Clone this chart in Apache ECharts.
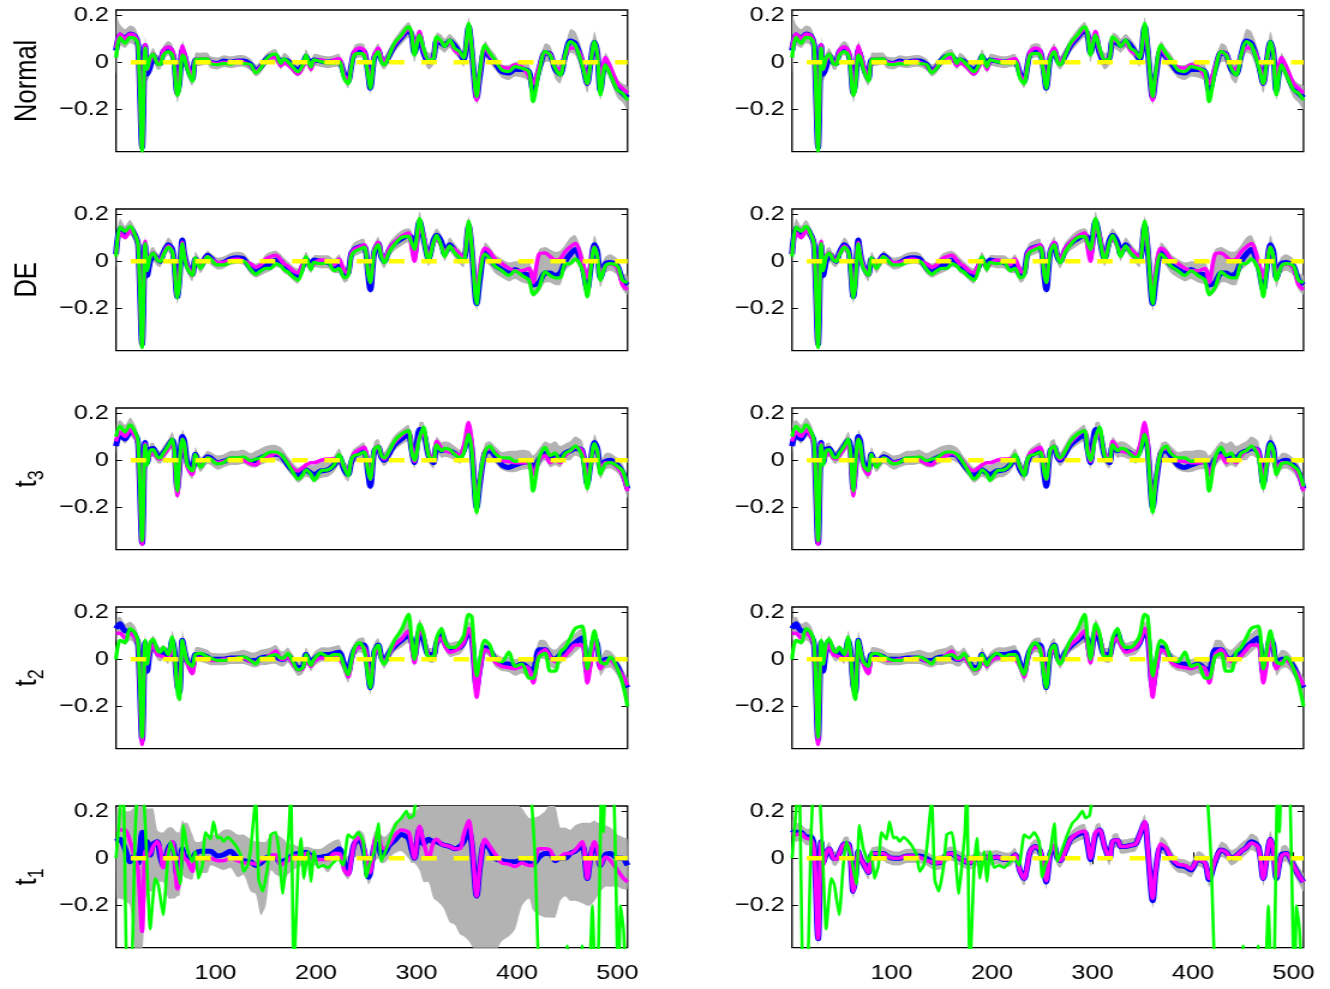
<!DOCTYPE html>
<html><head><meta charset="utf-8">
<script src="https://cdn.jsdelivr.net/npm/echarts@6/dist/echarts.min.js"></script>
<style>
html,body{margin:0;padding:0;background:#fff;overflow:hidden;}
#c{width:1108px;height:989px;transform:scaleX(1.2003610);transform-origin:0 0;}
</style></head><body><div id="c"></div>
<script>
// ---------- DATA ----------
const xs = [1,5,10,15,20,23,27,30,32,35,
 38,42,45,48,53,57,59,62,64,67,
 69,72,77,80,85,92,95,102,108,115,
 122,128,135,140,145,150,155,160,165,168,
 172,177,182,187,190,195,198,205,212,218,
 223,228,232,235,238,243,248,252,254,258,
 262,265,268,273,278,285,292,295,298,303,
 307,312,317,320,325,328,333,338,343,347,
 352,355,360,363,368,373,378,385,392,398,
 405,412,416,422,428,433,438,443,448,453,
 458,465,470,473,477,480,483,488,493,500,
 505,510];

const xTicks = [100,200,300,400,500];
const yTicks = [-0.2,0,0.2];
const rowNames = ['Normal','DE','t3','t2','t1'];

// Row 1 (Normal)
const r1Green = [0.02,0.105,0.08,0.105,0.10,0.07,-0.375,0.06,-0.03,0.02,
 0.035,-0.005,-0.01,0.03,0.045,0.03,-0.02,-0.14,-0.11,0.03,
 0.02,-0.03,-0.08,0.01,0.015,0.015,-0.005,-0.01,-0.005,-0.008,
 0.003,-0.005,-0.01,-0.045,-0.025,0.01,0.03,0.035,-0.005,0.015,
 0.003,-0.02,-0.04,-0.01,0.03,-0.02,0.01,0.003,-0.004,-0.004,
 0.003,-0.07,-0.09,-0.025,0.03,0.038,0.03,-0.06,-0.11,0.017,
 0.045,0.003,-0.011,0.031,0.08,0.115,0.15,0.125,0.03,0.115,
 0.06,0.01,0.017,0.108,0.087,0.066,0.094,0.059,0.045,0.017,
 0.165,0.06,-0.145,-0.04,0.073,0.038,0.01,-0.032,-0.039,-0.018,
 -0.025,-0.04,-0.166,-0.04,0.045,0.031,-0.025,-0.054,0.031,0.087,
 0.073,-0.011,-0.089,-0.011,0.087,0.031,-0.138,-0.011,-0.054,-0.117,
 -0.131,-0.16];
const r1Blue = [0.05,0.115,0.10,0.12,0.11,0.075,-0.36,0.07,-0.05,-0.02,
 0.03,0.0,-0.005,0.045,0.06,0.04,0.0,-0.13,-0.09,0.05,
 0.03,-0.02,-0.07,0.01,0.005,0.01,0.0,-0.005,0.005,0.0,
 0.005,0.005,-0.01,-0.035,-0.02,0.01,0.025,0.025,-0.005,0.01,
 0.005,-0.02,-0.03,-0.01,0.025,-0.015,0.01,0.005,0.0,0.005,
 0.005,-0.05,-0.08,-0.02,0.04,0.05,0.045,-0.05,-0.11,0.02,
 0.05,0.01,-0.005,0.03,0.07,0.105,0.135,0.12,0.04,0.11,
 0.04,0.0,0.02,0.09,0.08,0.07,0.09,0.07,0.04,0.01,
 0.15,0.05,-0.15,-0.06,0.05,0.025,0.0,-0.04,-0.045,-0.03,
 -0.03,-0.04,-0.12,-0.03,0.04,0.035,-0.03,-0.05,0.03,0.09,
 0.08,0.0,-0.09,-0.01,0.085,0.04,-0.12,0.0,-0.04,-0.11,
 -0.13,-0.15];
const r1Mag = [0.06,0.12,0.10,0.12,0.11,0.075,-0.36,0.075,-0.03,0.01,
 0.035,0.0,0.0,0.05,0.065,0.05,0.01,-0.14,-0.09,0.07,
 0.04,-0.01,-0.07,0.01,0.015,0.015,0.0,-0.005,0.0,-0.005,
 0.005,0.0,-0.015,-0.04,-0.02,0.005,0.02,0.02,-0.015,0.0,
 -0.01,-0.03,-0.05,-0.02,0.02,-0.03,0.005,0.01,0.0,0.01,
 0.015,-0.055,-0.08,-0.02,0.045,0.06,0.05,-0.05,-0.10,0.03,
 0.06,0.02,0.0,0.035,0.075,0.11,0.14,0.125,0.05,0.13,
 0.05,0.01,0.02,0.095,0.085,0.07,0.085,0.05,0.035,0.02,
 0.14,0.06,-0.16,-0.05,0.065,0.03,0.005,-0.02,-0.025,-0.01,
 -0.02,-0.06,-0.09,-0.02,0.04,0.035,-0.02,-0.03,0.03,0.06,
 0.06,0.01,-0.09,-0.01,0.08,0.04,-0.09,0.02,-0.02,-0.09,
 -0.11,-0.13];
const r1Lo = [-0.05,0.07,0.06,0.08,0.07,0.03,-0.38,0.03,-0.08,-0.05,
 0.0,-0.03,-0.03,0.01,0.03,0.0,-0.04,-0.17,-0.13,0.01,
 -0.01,-0.06,-0.10,-0.02,-0.015,-0.01,-0.025,-0.03,-0.02,-0.025,
 -0.02,-0.02,-0.035,-0.06,-0.045,-0.015,0.0,0.0,-0.03,-0.015,
 -0.02,-0.045,-0.06,-0.04,0.0,-0.045,-0.015,-0.02,-0.025,-0.02,
 -0.02,-0.08,-0.11,-0.05,0.01,0.02,0.015,-0.08,-0.135,-0.01,
 0.02,-0.02,-0.03,0.0,0.04,0.075,0.105,0.09,0.0,0.08,
 0.01,-0.03,-0.01,0.06,0.05,0.04,0.06,0.035,0.01,-0.02,
 0.12,0.02,-0.18,-0.09,0.02,-0.005,-0.03,-0.065,-0.075,-0.06,
 -0.065,-0.08,-0.16,-0.07,0.0,0.0,-0.07,-0.09,-0.01,0.04,
 0.03,-0.05,-0.13,-0.05,0.05,0.0,-0.16,-0.04,-0.08,-0.15,
 -0.17,-0.2];
const r1Hi = [0.20,0.16,0.14,0.155,0.145,0.11,-0.32,0.11,0.0,0.04,
 0.06,0.03,0.03,0.07,0.09,0.075,0.04,-0.10,-0.05,0.09,
 0.07,0.02,-0.04,0.04,0.04,0.04,0.025,0.02,0.03,0.025,
 0.03,0.03,0.015,-0.01,0.005,0.035,0.05,0.055,0.02,0.04,
 0.03,0.005,-0.005,0.015,0.055,0.01,0.035,0.03,0.025,0.03,
 0.035,-0.02,-0.05,0.01,0.07,0.08,0.075,-0.02,-0.08,0.05,
 0.08,0.04,0.025,0.06,0.10,0.14,0.17,0.15,0.08,0.14,
 0.08,0.04,0.05,0.125,0.115,0.10,0.12,0.10,0.07,0.04,
 0.19,0.08,-0.12,-0.02,0.09,0.06,0.035,-0.01,-0.01,0.0,
 0.005,-0.01,-0.08,0.01,0.08,0.07,0.01,0.0,0.07,0.14,
 0.13,0.05,-0.04,0.03,0.13,0.08,-0.06,0.04,0.0,-0.07,
 -0.09,-0.1];

// Row 2 (DE)
const r2Green = [0.02,0.145,0.127,0.148,0.11,0.07,-0.365,0.075,-0.04,0.02,
 0.035,0.005,-0.001,0.025,0.06,0.04,-0.02,-0.155,-0.10,0.075,
 0.02,-0.03,-0.06,0.015,-0.03,0.02,0.01,-0.015,-0.015,-0.005,
 0.0,0.0,-0.035,-0.055,-0.04,-0.03,-0.03,-0.01,-0.02,-0.035,
 -0.045,-0.065,-0.08,-0.03,0.02,-0.035,-0.005,-0.01,-0.005,-0.04,
 -0.03,-0.07,-0.06,0.02,0.04,0.05,0.06,-0.055,-0.09,0.04,
 0.07,0.02,-0.007,0.04,0.07,0.10,0.105,0.08,0.05,0.18,
 0.10,0.005,0.08,0.11,0.06,0.02,0.065,0.035,0.015,0.0,
 0.17,0.06,-0.18,-0.06,0.03,0.01,-0.02,-0.04,-0.06,-0.04,
 -0.06,-0.08,-0.14,-0.11,-0.045,-0.06,-0.07,-0.07,-0.01,-0.01,
 0.01,-0.035,-0.15,-0.05,0.06,0.02,-0.08,-0.02,-0.01,-0.02,
 -0.08,-0.09];
const r2Blue = [0.03,0.14,0.12,0.14,0.11,0.07,-0.35,0.07,-0.06,0.0,
 0.03,0.01,0.0,0.035,0.07,0.05,-0.01,-0.15,-0.08,0.09,
 0.03,-0.02,-0.055,0.01,-0.02,0.025,0.015,-0.01,-0.005,0.01,
 0.015,0.01,-0.03,-0.045,-0.035,-0.02,-0.01,0.005,0.0,-0.02,
 -0.03,-0.05,-0.06,-0.02,0.01,-0.02,0.005,0.0,-0.005,-0.02,
 -0.02,-0.06,-0.05,0.03,0.05,0.06,0.065,-0.06,-0.12,0.04,
 0.075,0.02,0.0,0.05,0.075,0.095,0.11,0.10,0.03,0.17,
 0.10,0.01,0.09,0.11,0.08,0.03,0.07,0.045,0.02,0.005,
 0.15,0.05,-0.18,-0.08,0.04,0.015,-0.015,-0.035,-0.05,-0.035,
 -0.05,-0.06,-0.10,-0.09,-0.05,-0.05,-0.06,-0.05,0.0,0.03,
 0.05,-0.02,-0.12,-0.04,0.07,0.04,-0.07,-0.01,-0.005,-0.02,
 -0.08,-0.10];
const r2Mag = [0.03,0.12,0.10,0.13,0.11,0.07,-0.35,0.085,-0.03,0.02,
 0.035,0.01,0.005,0.03,0.065,0.04,-0.01,-0.15,-0.09,0.08,
 0.025,-0.02,-0.06,0.01,-0.02,0.02,0.01,-0.005,-0.005,0.005,
 0.01,0.0,-0.01,-0.025,-0.015,0.01,0.02,0.025,0.005,-0.01,
 -0.02,-0.04,-0.05,-0.01,0.005,-0.03,-0.01,0.005,0.0,-0.015,
 0.01,-0.04,-0.05,0.03,0.05,0.06,0.07,-0.05,-0.09,0.045,
 0.08,0.03,0.01,0.055,0.08,0.105,0.12,0.06,0.0,0.14,
 0.11,0.015,0.08,0.10,0.06,0.04,0.06,0.05,0.03,0.01,
 0.16,0.06,-0.15,-0.03,0.055,0.04,0.01,-0.01,-0.03,-0.04,
 -0.04,-0.03,-0.09,0.03,0.035,0.02,0.005,0.01,0.04,0.06,
 0.075,0.0,-0.07,-0.02,0.06,0.02,-0.06,-0.02,-0.01,-0.03,
 -0.10,-0.12];
const r2Lo = [-0.03,0.11,0.09,0.11,0.08,0.03,-0.375,0.04,-0.08,-0.03,
 0.0,-0.02,-0.025,0.0,0.04,0.01,-0.04,-0.18,-0.12,0.05,
 0.0,-0.05,-0.085,-0.015,-0.05,-0.005,-0.015,-0.035,-0.03,-0.015,
 -0.01,-0.015,-0.055,-0.07,-0.06,-0.05,-0.04,-0.025,-0.03,-0.05,
 -0.06,-0.08,-0.095,-0.05,-0.02,-0.05,-0.025,-0.03,-0.03,-0.05,
 -0.05,-0.09,-0.08,0.0,0.02,0.03,0.035,-0.09,-0.14,0.01,
 0.045,-0.01,-0.03,0.02,0.045,0.065,0.08,0.06,0.0,0.14,
 0.07,-0.02,0.05,0.08,0.04,0.0,0.04,0.015,-0.01,-0.025,
 0.12,0.02,-0.21,-0.11,0.0,-0.02,-0.05,-0.07,-0.085,-0.075,
 -0.09,-0.10,-0.15,-0.13,-0.09,-0.09,-0.10,-0.10,-0.04,-0.02,
 0.0,-0.06,-0.16,-0.08,0.03,-0.01,-0.11,-0.05,-0.04,-0.06,
 -0.12,-0.14];
const r2Hi = [0.10,0.18,0.15,0.175,0.14,0.10,-0.32,0.11,0.0,0.05,
 0.06,0.035,0.03,0.06,0.10,0.08,0.02,-0.12,-0.05,0.11,
 0.06,0.01,-0.03,0.04,0.01,0.045,0.035,0.015,0.02,0.035,
 0.04,0.035,0.0,-0.01,0.0,0.03,0.04,0.045,0.03,0.015,
 0.0,-0.02,-0.03,0.01,0.04,0.0,0.025,0.025,0.025,0.01,
 0.03,-0.02,-0.02,0.06,0.08,0.09,0.095,-0.02,-0.06,0.07,
 0.105,0.05,0.03,0.08,0.105,0.13,0.14,0.13,0.07,0.21,
 0.13,0.04,0.12,0.14,0.11,0.06,0.10,0.075,0.05,0.035,
 0.19,0.09,-0.15,-0.03,0.08,0.06,0.03,0.01,-0.005,0.0,
 0.0,0.0,-0.04,0.05,0.06,0.05,0.04,0.045,0.07,0.10,
 0.11,0.04,-0.05,0.02,0.11,0.07,-0.02,0.02,0.03,0.01,
 -0.05,-0.06];

// Row 3 (t3)
const r3Green = [0.10,0.145,0.12,0.15,0.12,0.08,-0.34,0.065,-0.02,0.04,
 0.045,0.015,0.01,0.03,0.06,0.09,0.04,-0.13,-0.02,0.09,
 0.07,-0.02,-0.045,0.025,-0.03,0.01,0.005,-0.015,-0.01,0.01,
 0.01,0.015,-0.002,0.005,0.01,0.025,0.035,0.035,0.025,0.01,
 -0.015,-0.05,-0.08,-0.06,-0.04,-0.06,-0.085,-0.045,-0.04,-0.02,
 0.025,-0.03,-0.065,0.0,0.02,0.025,0.035,-0.05,-0.08,0.045,
 0.06,0.02,0.01,0.04,0.08,0.11,0.125,0.04,0.0,0.095,
 0.14,0.02,0.0,0.065,0.04,0.05,0.045,0.025,0.01,0.03,
 0.11,0.04,-0.22,-0.08,0.035,0.06,0.03,0.01,0.01,-0.005,
 0.0,-0.01,-0.13,0.01,0.055,0.02,0.03,-0.005,0.03,0.04,
 0.06,0.015,-0.12,-0.03,0.07,0.04,-0.06,-0.015,-0.01,-0.025,
 -0.045,-0.11];
const r3Blue = [0.06,0.11,0.09,0.12,0.11,0.07,-0.35,0.075,-0.01,0.045,
 0.05,0.02,0.015,0.03,0.06,0.085,0.06,-0.12,-0.04,0.10,
 0.08,-0.01,-0.04,0.025,-0.02,0.015,0.01,-0.01,-0.005,0.005,
 0.005,0.005,-0.005,0.0,0.01,0.02,0.025,0.025,0.02,0.005,
 -0.02,-0.045,-0.065,-0.05,-0.04,-0.055,-0.06,-0.045,-0.04,-0.02,
 0.015,-0.04,-0.06,-0.01,0.02,0.03,0.04,-0.06,-0.11,0.04,
 0.055,0.015,0.0,0.03,0.065,0.09,0.11,0.05,-0.01,0.13,
 0.12,0.02,-0.01,0.06,0.04,0.045,0.04,0.03,0.015,0.04,
 0.11,0.05,-0.20,-0.10,0.03,0.04,0.02,-0.02,-0.03,-0.02,
 -0.01,-0.005,-0.04,0.005,0.03,0.01,0.02,0.01,0.03,0.04,
 0.05,0.04,-0.10,-0.02,0.075,0.05,-0.03,-0.005,0.0,-0.02,
 -0.05,-0.12];
const r3Mag = [0.08,0.12,0.10,0.13,0.10,0.07,-0.355,0.07,0.0,0.02,
 0.03,0.01,0.005,0.02,0.05,0.07,0.03,-0.15,-0.06,0.09,
 0.06,-0.03,-0.06,0.02,-0.02,0.01,0.005,-0.01,-0.005,0.005,
 0.005,0.0,-0.015,-0.02,0.0,0.015,0.02,0.03,0.02,0.01,
 -0.01,-0.035,-0.045,-0.03,-0.02,-0.01,-0.01,0.0,0.005,0.005,
 0.01,-0.03,-0.05,-0.005,0.03,0.045,0.055,-0.04,-0.08,0.04,
 0.06,0.02,0.005,0.04,0.075,0.105,0.125,0.06,-0.005,0.10,
 0.11,0.03,0.0,0.08,0.05,0.04,0.035,0.03,0.02,0.06,
 0.16,0.08,-0.19,-0.09,0.04,0.05,0.035,0.0,-0.005,-0.01,
 -0.01,-0.01,-0.06,0.0,0.02,-0.01,0.005,-0.01,0.02,0.04,
 0.055,0.04,-0.09,-0.02,0.065,0.04,-0.04,-0.01,-0.01,-0.03,
 -0.06,-0.13];
const r3Lo = [0.03,0.09,0.07,0.10,0.08,0.04,-0.37,0.04,-0.04,0.01,
 0.015,-0.01,-0.015,0.0,0.03,0.05,0.01,-0.165,-0.08,0.06,
 0.04,-0.05,-0.08,-0.005,-0.05,-0.015,-0.02,-0.04,-0.03,-0.02,
 -0.02,-0.015,-0.03,-0.03,-0.02,-0.01,0.0,0.0,-0.01,-0.02,
 -0.045,-0.07,-0.095,-0.08,-0.07,-0.08,-0.095,-0.075,-0.07,-0.05,
 -0.02,-0.07,-0.09,-0.04,-0.01,0.0,0.01,-0.09,-0.125,0.01,
 0.03,-0.01,-0.025,0.0,0.04,0.065,0.08,0.02,-0.035,0.07,
 0.09,-0.01,-0.035,0.03,0.01,0.015,0.01,0.0,-0.015,0.01,
 0.08,0.01,-0.24,-0.13,0.0,0.01,-0.01,-0.04,-0.05,-0.05,
 -0.04,-0.04,-0.09,-0.03,0.0,-0.03,-0.02,-0.03,0.0,0.0,
 0.02,0.0,-0.14,-0.06,0.04,0.01,-0.08,-0.04,-0.035,-0.055,
 -0.09,-0.16];
const r3Hi = [0.15,0.17,0.15,0.18,0.15,0.11,-0.31,0.10,0.03,0.07,
 0.075,0.045,0.04,0.06,0.09,0.12,0.09,-0.09,0.0,0.13,
 0.11,0.02,-0.01,0.055,0.01,0.04,0.035,0.02,0.025,0.04,
 0.04,0.045,0.03,0.04,0.05,0.06,0.065,0.065,0.055,0.04,
 0.015,-0.01,-0.03,-0.02,-0.01,-0.02,-0.02,-0.005,0.0,0.02,
 0.05,0.0,-0.02,0.03,0.05,0.065,0.075,-0.02,-0.05,0.08,
 0.09,0.05,0.035,0.07,0.105,0.13,0.15,0.09,0.03,0.16,
 0.16,0.05,0.025,0.10,0.075,0.08,0.075,0.06,0.045,0.08,
 0.15,0.09,-0.16,-0.05,0.07,0.08,0.06,0.035,0.04,0.04,
 0.045,0.04,0.02,0.05,0.08,0.07,0.08,0.06,0.07,0.08,
 0.10,0.08,-0.06,0.02,0.11,0.08,0.0,0.03,0.03,0.01,
 -0.015,-0.08];

// Row 4 (t2)
const r4Green = [0.0,0.08,0.07,0.13,0.11,0.07,-0.33,0.08,-0.02,0.07,
 0.085,0.04,0.03,0.05,0.02,0.095,0.04,-0.13,-0.17,0.08,
 0.04,-0.01,-0.03,0.02,0.025,0.01,0.005,-0.005,-0.005,0.0,
 0.005,0.01,-0.005,-0.02,0.005,0.005,0.015,0.02,0.005,0.005,
 0.025,-0.01,-0.045,-0.035,0.02,-0.025,0.0,0.025,0.01,0.02,
 0.02,-0.03,-0.065,-0.01,0.045,0.07,0.04,-0.08,-0.12,0.035,
 0.06,0.0,-0.02,0.03,0.08,0.125,0.19,0.09,0.0,0.15,
 0.11,0.01,0.01,0.09,0.13,0.08,0.05,0.05,0.07,0.10,
 0.19,0.18,-0.07,0.0,0.08,0.06,0.0,-0.01,0.03,-0.03,
 -0.02,-0.08,-0.08,0.01,0.025,-0.05,-0.05,0.03,0.05,0.09,
 0.13,0.14,-0.04,0.03,0.12,0.06,-0.01,-0.02,0.01,-0.04,
 -0.10,-0.20];
const r4Blue = [0.13,0.15,0.12,0.12,0.10,0.06,-0.34,0.07,-0.05,0.04,
 0.07,0.03,0.02,0.03,0.01,0.08,0.04,-0.11,-0.14,0.08,
 0.04,-0.01,-0.03,0.02,0.02,0.01,0.0,0.0,0.0,0.005,
 0.005,0.005,-0.005,-0.005,0.005,0.01,0.01,0.01,0.0,0.0,
 0.015,-0.01,-0.035,-0.03,0.02,-0.02,0.0,0.02,0.02,0.025,
 0.03,-0.02,-0.055,0.0,0.04,0.06,0.06,-0.06,-0.12,0.03,
 0.06,0.01,-0.01,0.03,0.055,0.08,0.10,0.08,0.01,0.12,
 0.08,0.02,0.02,0.07,0.11,0.07,0.04,0.045,0.05,0.07,
 0.12,0.10,-0.12,-0.04,0.05,0.04,0.0,-0.02,-0.02,-0.03,
 -0.02,-0.04,-0.05,0.04,0.04,0.01,0.0,0.02,0.035,0.05,
 0.07,0.09,-0.06,0.0,0.09,0.06,-0.03,0.0,0.0,-0.03,
 -0.08,-0.12];
const r4Mag = [0.11,0.11,0.09,0.11,0.09,0.06,-0.36,0.07,-0.02,0.04,
 0.06,0.02,0.015,0.01,0.0,0.07,0.03,-0.12,-0.13,0.075,
 0.04,-0.02,-0.06,0.0,0.005,0.0,-0.005,-0.005,0.0,0.0,
 0.005,0.005,-0.01,-0.015,0.0,0.005,0.02,0.035,0.0,0.0,
 0.01,-0.02,-0.045,-0.04,0.0,-0.03,-0.01,0.005,0.005,0.01,
 0.0,-0.03,-0.075,-0.02,0.035,0.05,0.05,-0.05,-0.10,0.02,
 0.05,0.005,-0.01,0.025,0.06,0.085,0.12,0.06,-0.015,0.12,
 0.10,0.01,0.0,0.07,0.09,0.06,0.03,0.035,0.05,0.07,
 0.13,0.10,-0.16,-0.06,0.04,0.03,-0.01,-0.03,-0.035,-0.04,
 -0.03,-0.04,-0.10,0.02,0.04,0.01,-0.01,0.0,0.015,0.04,
 0.06,0.06,-0.10,-0.03,0.08,0.05,-0.04,-0.01,-0.005,-0.04,
 -0.07,-0.11];
const r4Lo = [0.08,0.11,0.06,0.08,0.06,0.03,-0.375,0.04,-0.07,0.01,
 0.03,0.0,-0.01,0.0,-0.02,0.05,0.0,-0.16,-0.18,0.05,
 0.0,-0.04,-0.07,-0.01,-0.01,-0.02,-0.025,-0.025,-0.025,-0.02,
 -0.02,-0.02,-0.03,-0.035,-0.025,-0.025,-0.02,-0.02,-0.03,-0.03,
 -0.015,-0.04,-0.07,-0.06,-0.01,-0.05,-0.03,-0.01,-0.01,-0.005,
 -0.005,-0.06,-0.10,-0.04,0.01,0.03,0.02,-0.10,-0.15,-0.01,
 0.02,-0.02,-0.04,0.0,0.03,0.05,0.07,0.05,-0.03,0.09,
 0.05,-0.01,-0.015,0.04,0.07,0.04,0.01,0.015,0.02,0.04,
 0.09,0.07,-0.17,-0.08,0.02,0.01,-0.03,-0.05,-0.055,-0.07,
 -0.06,-0.08,-0.10,0.0,0.0,-0.03,-0.04,-0.02,0.0,0.01,
 0.03,0.05,-0.10,-0.04,0.05,0.02,-0.07,-0.04,-0.035,-0.07,
 -0.12,-0.16];
const r4Hi = [0.17,0.18,0.15,0.16,0.14,0.10,-0.30,0.11,0.01,0.08,
 0.10,0.06,0.05,0.06,0.045,0.12,0.08,-0.07,-0.10,0.12,
 0.075,0.02,0.0,0.05,0.05,0.04,0.03,0.025,0.025,0.03,
 0.035,0.04,0.03,0.03,0.04,0.045,0.05,0.06,0.035,0.035,
 0.05,0.02,-0.01,0.0,0.05,0.01,0.03,0.05,0.05,0.055,
 0.06,0.01,-0.02,0.03,0.07,0.09,0.09,-0.02,-0.07,0.07,
 0.09,0.04,0.02,0.06,0.09,0.12,0.19,0.12,0.04,0.17,
 0.13,0.05,0.05,0.10,0.14,0.11,0.07,0.075,0.08,0.10,
 0.16,0.14,-0.08,0.0,0.08,0.07,0.03,0.01,0.01,0.0,
 0.01,0.0,-0.01,0.08,0.08,0.05,0.04,0.06,0.08,0.09,
 0.11,0.13,-0.02,0.04,0.13,0.10,0.01,0.04,0.035,0.0,
 -0.04,-0.08];

// Row 5 (t1), left column
const r5LBlue = [0.07,0.08,0.04,-0.015,0.015,-0.02,0.11,0.014,0.07,0.014,
 0.06,0.07,0.01,-0.03,0.04,0.065,0.03,-0.07,-0.05,0.04,
 0.01,0.005,0.0,0.02,0.03,0.03,0.03,0.01,0.015,0.03,
 0.0,-0.01,-0.015,-0.03,-0.02,0.0,0.01,0.005,-0.02,-0.01,
 -0.005,0.015,0.02,0.02,0.025,0.01,0.0,0.005,0.01,0.025,
 0.04,-0.02,-0.065,0.0,0.06,0.08,0.03,-0.08,-0.06,0.05,
 0.06,0.015,0.02,0.055,0.075,0.10,0.085,0.04,0.0,0.125,
 0.06,0.08,0.07,0.07,0.06,0.055,0.05,0.04,0.05,0.07,
 0.12,0.06,-0.16,-0.04,0.07,0.04,0.0,-0.01,-0.015,-0.015,
 -0.005,-0.02,-0.025,0.005,0.02,0.02,-0.01,0.0,0.0,0.02,
 0.03,0.055,-0.085,0.0,0.055,0.03,-0.03,0.015,0.02,0.0,
 0.0,-0.03];
const r5LMag = [0.12,0.12,0.12,0.07,0.0,-0.05,-0.31,0.03,0.01,0.02,
 0.05,0.07,0.04,-0.04,0.03,0.07,0.02,-0.13,-0.10,0.03,
 0.0,-0.01,-0.055,0.01,0.0,-0.005,0.0,-0.01,-0.01,0.0,
 -0.01,-0.02,-0.02,-0.025,-0.01,0.0,0.01,0.015,-0.03,-0.02,
 -0.01,0.01,0.01,0.01,0.02,0.005,-0.005,-0.005,-0.005,0.02,
 0.02,-0.05,-0.07,-0.01,0.06,0.09,0.04,-0.05,-0.06,0.07,
 0.10,0.05,0.04,0.06,0.095,0.12,0.11,0.06,0.0,0.135,
 0.07,0.0,0.07,0.08,0.06,0.055,0.05,0.04,0.04,0.10,
 0.16,0.08,-0.16,-0.04,0.08,0.05,0.02,-0.02,-0.025,-0.035,
 -0.02,-0.03,-0.03,0.04,0.04,0.035,-0.005,0.005,0.02,0.02,
 0.035,0.07,-0.085,0.0,0.07,0.04,-0.03,0.005,-0.01,-0.05,
 -0.08,-0.10];
const r5LLo = [-0.17,-0.17,-0.18,-0.20,-0.40,-0.40,-0.40,-0.20,-0.15,-0.14,
 -0.14,-0.10,-0.10,-0.10,-0.17,-0.17,-0.17,-0.16,-0.16,-0.07,
 -0.08,-0.085,-0.09,-0.04,-0.06,-0.06,-0.03,-0.04,-0.05,-0.04,
 -0.08,-0.07,-0.14,-0.15,-0.24,-0.20,-0.05,-0.07,-0.08,-0.10,
 -0.07,-0.05,-0.04,-0.03,-0.03,-0.03,-0.03,-0.03,-0.06,-0.02,
 -0.01,-0.07,-0.09,-0.05,0.0,0.01,-0.03,-0.11,-0.10,-0.02,
 0.0,-0.02,-0.02,0.0,0.02,0.03,0.0,-0.02,-0.02,-0.05,
 -0.10,-0.10,-0.17,-0.18,-0.20,-0.22,-0.27,-0.28,-0.32,-0.33,
 -0.35,-0.37,-0.40,-0.40,-0.40,-0.40,-0.40,-0.35,-0.33,-0.30,
 -0.20,-0.17,-0.22,-0.24,-0.25,-0.25,-0.25,-0.18,-0.16,-0.18,
 -0.18,-0.19,-0.20,-0.20,-0.18,-0.16,-0.14,-0.12,-0.12,-0.12,
 -0.13,-0.13];
const r5LHi = [0.21,0.21,0.20,0.20,0.22,0.22,0.22,0.21,0.21,0.21,
 0.21,0.12,0.11,0.11,0.13,0.13,0.12,0.11,0.11,0.16,
 0.15,0.15,0.10,0.07,0.07,0.09,0.10,0.10,0.12,0.12,
 0.10,0.10,0.08,0.07,0.07,0.07,0.10,0.10,0.09,0.08,
 0.06,0.06,0.05,0.045,0.05,0.045,0.04,0.04,0.06,0.075,
 0.08,0.02,0.01,0.05,0.10,0.12,0.10,0.0,0.02,0.11,
 0.12,0.10,0.09,0.11,0.15,0.17,0.19,0.19,0.19,0.22,
 0.23,0.23,0.23,0.23,0.23,0.23,0.23,0.23,0.23,0.23,
 0.23,0.23,0.23,0.23,0.23,0.23,0.23,0.23,0.23,0.23,
 0.21,0.17,0.17,0.18,0.20,0.23,0.22,0.13,0.13,0.12,
 0.14,0.15,0.15,0.15,0.16,0.15,0.15,0.14,0.13,0.10,
 0.09,0.08];

// Row 5 (t1), right column
const r5RBlue = [0.12,0.11,0.11,0.09,0.09,0.05,-0.34,0.07,-0.02,0.02,
 0.04,0.0,0.0,0.02,0.06,0.06,0.02,-0.14,-0.09,0.03,
 0.0,-0.02,-0.06,0.015,0.02,0.02,0.01,0.0,0.0,0.01,
 0.01,0.01,0.0,-0.015,-0.02,-0.015,0.015,0.02,0.005,0.0,
 -0.01,-0.02,-0.01,0.0,-0.005,0.005,0.0,0.005,-0.005,-0.005,
 0.015,-0.055,-0.085,-0.035,0.03,0.05,0.03,-0.06,-0.10,0.02,
 0.05,0.0,-0.01,0.03,0.08,0.10,0.11,0.06,-0.005,0.10,
 0.12,0.05,0.0,0.07,0.075,0.05,0.05,0.055,0.06,0.10,
 0.15,0.04,-0.18,-0.05,0.05,0.04,0.0,-0.03,-0.035,-0.05,
 -0.005,-0.02,-0.09,-0.015,0.035,0.025,0.0,0.01,0.03,0.045,
 0.07,0.05,-0.085,-0.01,0.08,0.035,-0.085,0.015,0.02,-0.03,
 -0.07,-0.10];
const r5RMag = [0.11,0.10,0.105,0.085,0.08,0.04,-0.34,0.07,-0.03,0.02,
 0.04,0.0,-0.005,0.02,0.06,0.06,0.02,-0.14,-0.09,0.03,
 0.0,-0.02,-0.06,0.015,0.02,0.02,0.01,0.0,0.0,0.01,
 0.01,0.005,-0.01,-0.015,-0.02,-0.015,0.015,0.02,0.005,0.0,
 -0.01,-0.02,-0.01,0.0,-0.005,0.005,0.0,0.005,-0.005,-0.005,
 0.015,-0.055,-0.085,-0.035,0.03,0.05,0.035,-0.06,-0.095,0.025,
 0.055,0.0,-0.01,0.03,0.08,0.105,0.115,0.07,0.0,0.11,
 0.12,0.05,0.0,0.07,0.077,0.05,0.05,0.055,0.06,0.10,
 0.155,0.05,-0.17,-0.05,0.06,0.045,0.005,-0.025,-0.03,-0.045,
 -0.005,-0.02,-0.085,-0.01,0.035,0.025,0.0,0.01,0.03,0.045,
 0.065,0.045,-0.085,-0.01,0.08,0.035,-0.08,0.01,0.02,-0.03,
 -0.07,-0.10];
const r5RLo = [0.08,0.07,0.075,0.055,0.055,0.01,-0.37,0.035,-0.05,-0.01,
 0.01,-0.03,-0.03,-0.01,0.03,0.03,-0.01,-0.17,-0.12,0.0,
 -0.03,-0.05,-0.09,-0.015,-0.01,-0.01,-0.02,-0.03,-0.03,-0.02,
 -0.02,-0.02,-0.03,-0.045,-0.05,-0.045,-0.015,-0.01,-0.025,-0.03,
 -0.04,-0.05,-0.04,-0.03,-0.035,-0.025,-0.03,-0.025,-0.035,-0.035,
 -0.015,-0.085,-0.115,-0.065,0.0,0.02,0.0,-0.09,-0.13,-0.01,
 0.02,-0.03,-0.04,0.0,0.05,0.07,0.08,0.03,-0.035,0.07,
 0.09,0.02,-0.03,0.04,0.045,0.02,0.02,0.025,0.03,0.07,
 0.12,0.01,-0.21,-0.08,0.02,0.01,-0.03,-0.06,-0.065,-0.08,
 -0.035,-0.05,-0.12,-0.045,0.005,-0.005,-0.03,-0.02,0.0,0.015,
 0.035,0.015,-0.115,-0.04,0.05,0.005,-0.115,-0.02,-0.015,-0.065,
 -0.105,-0.14];
const r5RHi = [0.16,0.15,0.145,0.125,0.125,0.085,-0.31,0.105,0.01,0.05,
 0.07,0.03,0.03,0.05,0.09,0.09,0.05,-0.11,-0.06,0.06,
 0.03,0.01,-0.03,0.045,0.05,0.05,0.04,0.03,0.03,0.04,
 0.04,0.04,0.03,0.015,0.01,0.015,0.045,0.05,0.035,0.03,
 0.02,0.01,0.02,0.03,0.025,0.035,0.03,0.035,0.025,0.025,
 0.045,-0.025,-0.055,-0.005,0.06,0.08,0.065,-0.03,-0.065,0.055,
 0.085,0.03,0.02,0.06,0.11,0.135,0.145,0.10,0.03,0.14,
 0.15,0.08,0.03,0.10,0.105,0.08,0.08,0.085,0.09,0.13,
 0.185,0.08,-0.14,-0.02,0.09,0.075,0.035,0.0,-0.005,-0.015,
 0.03,0.01,-0.055,0.02,0.07,0.06,0.035,0.045,0.065,0.08,
 0.105,0.085,-0.05,0.025,0.115,0.07,-0.05,0.05,0.055,0.005,
 -0.035,-0.065];

// Row 5 green (noisy, runs off the axes)
const green5X = [1,4,8,12,16,20,24,28,31,35,40,43,48,52,55,60,65,68,72,77,80,83,87,90,95,98,102,105,108,112,115,120,125,128,132,135,140,143,147,152,155,160,163,167,170,173,175,178,182,185,188,192,195,198,202,207,212,217,222,227,232,237,242,247,250,253,258,262,265,270,275,280,285,290,293,297,300,305,320,400,413,418,425,448,450,452,463,465,467,472,475,478,481,484,486,489,495,498,501,503,506,508,510];
const green5Y = [0.0,0.15,0.35,-0.5,-0.5,0.1,0.4,0.3,0.06,-0.30,-0.085,-0.11,-0.24,-0.03,0.07,0.0,-0.11,0.14,0.04,-0.015,0.03,-0.085,-0.03,0.11,0.08,0.155,0.085,0.09,0.07,0.09,0.08,0.055,0.014,-0.056,-0.03,0.04,0.25,-0.09,-0.14,-0.03,0.1,0.11,0.03,-0.15,-0.03,0.11,0.3,-0.5,-0.05,0.085,-0.085,0.03,-0.1,0.03,-0.04,-0.03,-0.04,-0.02,0.0,-0.03,0.1,0.085,0.11,0.07,-0.08,-0.03,0.03,0.148,-0.014,0.04,0.1,0.148,0.17,0.2,0.17,0.18,0.26,0.35,0.4,0.4,0.3,0.0,-0.6,-0.6,-0.37,-0.6,-0.6,-0.37,-0.6,-0.5,-0.2,-0.5,-0.4,0.3,0.11,0.4,0.4,0.0,-0.6,-0.2,-0.3,-0.45,-0.4];

// ---------- CHART ----------
const named = {r1Green,r1Blue,r1Mag,r1Lo,r1Hi,r2Green,r2Blue,r2Mag,r2Lo,r2Hi,r3Green,r3Blue,r3Mag,r3Lo,r3Hi,r4Green,r4Blue,r4Mag,r4Lo,r4Hi,r5LBlue,r5LMag,r5LLo,r5LHi,r5RBlue,r5RMag,r5RLo,r5RHi};
for (const k in named) { if (named[k].length !== xs.length) throw new Error(k + ' has ' + named[k].length + ' values, expected ' + xs.length); }
if (green5X.length !== green5Y.length) throw new Error('green5 length mismatch ' + green5X.length + ' vs ' + green5Y.length);

const S = 1330 / 1108;           // horizontal stretch applied by CSS
const rowTops = [10, 209, 408, 607, 806];
const gridH = 141.7;
const colLefts = [116 / S, 792 / S];
const gridW = 511.5 / S;
const Y_MIN = -0.378, Y_MAX = 0.221;
const SM = 0.3;
const FONT = 'Liberation Sans';

const panels = [];
const rowSets = [
  {blue:r1Blue, mag:r1Mag, green:r1Green, gx:xs, lo:r1Lo, hi:r1Hi},
  {blue:r2Blue, mag:r2Mag, green:r2Green, gx:xs, lo:r2Lo, hi:r2Hi},
  {blue:r3Blue, mag:r3Mag, green:r3Green, gx:xs, lo:r3Lo, hi:r3Hi},
  {blue:r4Blue, mag:r4Mag, green:r4Green, gx:xs, lo:r4Lo, hi:r4Hi}
];
for (let r = 0; r < 4; r++) for (let c = 0; c < 2; c++) panels.push(Object.assign({row:r, col:c}, rowSets[r]));
panels.push({row:4, col:0, blue:r5LBlue, mag:r5LMag, green:green5Y, gx:green5X, lo:r5LLo, hi:r5LHi});
panels.push({row:4, col:1, blue:r5RBlue, mag:r5RMag, green:green5Y, gx:green5X, lo:r5RLo, hi:r5RHi});

const pairs = (xa, ya) => xa.map((x, i) => [x, ya[i]]);
const yFmt = v => Math.abs(v) < 1e-9 ? '0' : (v < 0 ? '\u2212' : '') + Math.abs(v).toFixed(1);

const grid = [], xAxis = [], yAxis = [], series = [];
panels.forEach((p, k) => {
  grid.push({left: colLefts[p.col], top: rowTops[p.row], width: gridW, height: gridH,
    show: true, borderColor: '#000', borderWidth: 1.3, backgroundColor: 'transparent'});
  const bottomRow = p.row === 4;
  const xi = xAxis.length;
  xAxis.push({gridIndex: k, type: 'value', min: 1, max: 510, position: 'bottom',
    axisLine: {show: false}, splitLine: {show: false},
    axisTick: {show: bottomRow, inside: true, length: 6, customValues: xTicks, lineStyle: {color: '#000', width: 1}},
    axisLabel: {show: bottomRow, customValues: xTicks, fontSize: 21, fontFamily: FONT, color: '#000', margin: 15}});
  if (bottomRow) {
    xAxis.push({gridIndex: k, type: 'value', min: 1, max: 510, position: 'top',
      axisLine: {show: false}, splitLine: {show: false},
      axisTick: {show: true, inside: true, length: 6, customValues: xTicks, lineStyle: {color: '#000', width: 1}},
      axisLabel: {show: false}});
  }
  const yi = yAxis.length;
  yAxis.push({gridIndex: k, type: 'value', min: Y_MIN, max: Y_MAX, position: 'left',
    axisLine: {show: false}, splitLine: {show: false},
    axisTick: {show: true, inside: true, length: 5, customValues: yTicks, lineStyle: {color: '#000', width: 1}},
    axisLabel: {show: true, customValues: yTicks, formatter: yFmt, fontSize: 21, fontFamily: FONT, color: '#000', margin: 6}});
  yAxis.push({gridIndex: k, type: 'value', min: Y_MIN, max: Y_MAX, position: 'right',
    axisLine: {show: false}, splitLine: {show: false},
    axisTick: {show: true, inside: true, length: 5, customValues: yTicks, lineStyle: {color: '#000', width: 1}},
    axisLabel: {show: false}});

  const lo = p.lo, hi = p.hi;
  // grey band drawn as one polygon through the read upper and lower edges
  series.push({type: 'custom', xAxisIndex: xi, yAxisIndex: yi, silent: true, animation: false,
    data: xs.map((x, i) => [x, lo[i], hi[i]]), encode: {x: 0, y: [1, 2]},
    renderItem: (params, api) => {
      if (params.dataIndexInside !== 0) return null;
      const pts = [];
      for (let i = 0; i < xs.length; i++) pts.push(api.coord([xs[i], hi[i]]));
      for (let i = xs.length - 1; i >= 0; i--) pts.push(api.coord([xs[i], lo[i]]));
      const cs = params.coordSys;
      return {type: 'polygon', shape: {points: pts, smooth: 0.25}, style: {fill: '#b3b3b3'},
        clipPath: {type: 'rect', shape: {x: cs.x, y: cs.y, width: cs.width, height: cs.height}}};
    }});
  const base = {type: 'line', xAxisIndex: xi, yAxisIndex: yi, symbol: 'none', silent: true, smooth: SM, animation: false};
  series.push(Object.assign({}, base, {data: pairs(xs, p.blue), lineStyle: {color: '#0000ff', width: 5}}));
  series.push(Object.assign({}, base, {data: pairs(xs, p.mag), lineStyle: {color: '#ff00ff', width: 3.5}}));
  series.push(Object.assign({}, base, {data: pairs(p.gx, p.green), smooth: bottomRow ? 0.15 : SM,
    lineStyle: {color: '#00ff00', width: bottomRow ? 2.6 : 3.2}}));
  series.push(Object.assign({}, base, {data: [[1, 0], [510, 0]], smooth: false,
    lineStyle: {color: '#ffff00', width: 4.5, type: [12.9, 14.0], dashOffset: 14.7, cap: 'butt'}}));
});

const graphic = rowNames.map((nm, i) => {
  const isT = nm.charAt(0) === 't';
  return {type: 'text', x: 28 / S, y: rowTops[i] + gridH / 2, rotation: Math.PI / 2, silent: true,
    style: isT ? {
      text: '{a|t}{b|' + nm.charAt(1) + '}', align: 'center', verticalAlign: 'middle',
      rich: {a: {fontSize: 25.5, fontFamily: FONT, fill: '#000', lineHeight: 34, verticalAlign: 'middle'},
             b: {fontSize: 18, fontFamily: FONT, fill: '#000', lineHeight: 18, verticalAlign: 'bottom'}}
    } : {text: nm, fontSize: 25.5, fontFamily: FONT, fill: '#000', align: 'center', verticalAlign: 'middle'}};
});

const chart = echarts.init(document.getElementById('c'), null, {renderer: 'canvas'});
chart.setOption({animation: false, backgroundColor: '#fff', textStyle: {fontFamily: FONT},
  grid, xAxis, yAxis, series, graphic});
</script></body></html>
